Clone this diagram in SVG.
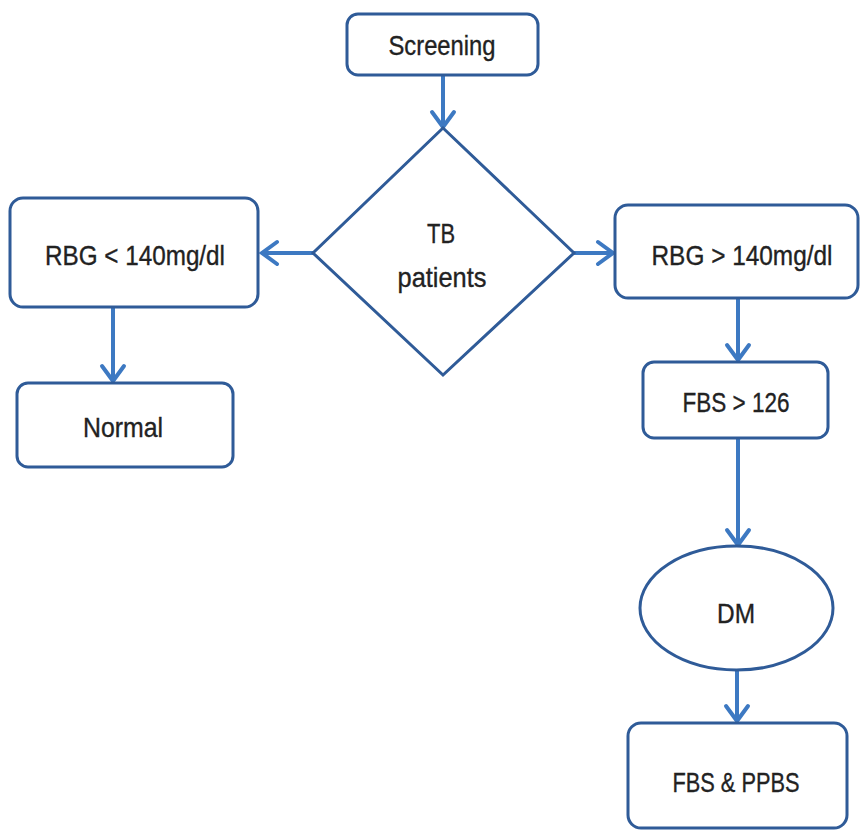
<svg xmlns="http://www.w3.org/2000/svg" width="861" height="831" viewBox="0 0 861 831">
  <defs>
    <marker id="chevron" markerUnits="userSpaceOnUse" markerWidth="40" markerHeight="40" viewBox="-20 -20 40 40" refX="0" refY="0" orient="auto">
      <path d="M-15,-11 L0,0 L-15,11" fill="none" stroke="#3d79c2" stroke-width="4" stroke-linejoin="miter" stroke-linecap="round"/>
    </marker>
    <style>
      .box { fill: #ffffff; stroke: #2f5b98; stroke-width: 3; }
      .label { font-family: "Liberation Sans", Arial, sans-serif; font-size: 28px; fill: #222222; stroke: #222222; stroke-width: 0.35; text-anchor: middle; }
      .link { fill: none; stroke: #3d79c2; stroke-width: 4; marker-end: url(#chevron); }
    </style>
  </defs>
  <rect width="861" height="831" fill="#ffffff"/>

  <g id="connectors">
    <line class="link" x1="443" y1="76" x2="443" y2="127"/>
    <line class="link" x1="313" y1="253" x2="262" y2="253"/>
    <line class="link" x1="574" y1="253" x2="613" y2="253"/>
    <line class="link" x1="113" y1="308" x2="113" y2="381"/>
    <line class="link" x1="738" y1="299" x2="738" y2="360"/>
    <line class="link" x1="738" y1="439" x2="738" y2="545"/>
    <line class="link" x1="737" y1="671" x2="737" y2="721"/>
  </g>

  <g id="screening">
    <rect class="box" x="347" y="14" width="191" height="61" rx="11"/>
    <text class="label" x="442" y="55" textLength="107" lengthAdjust="spacingAndGlyphs">Screening</text>
  </g>

  <g id="tb-patients">
    <polygon class="box" points="443,128 574,253 443,375 313,253"/>
    <text class="label" x="441" y="243" textLength="28" lengthAdjust="spacingAndGlyphs">TB</text>
    <text class="label" x="442" y="287" textLength="89" lengthAdjust="spacingAndGlyphs">patients</text>
  </g>

  <g id="rbg-low">
    <rect class="box" x="10" y="198" width="248" height="109" rx="13"/>
    <text class="label" x="135" y="265" textLength="180" lengthAdjust="spacingAndGlyphs">RBG &lt; 140mg/dl</text>
  </g>

  <g id="normal">
    <rect class="box" x="17" y="383" width="216" height="84" rx="11"/>
    <text class="label" x="123" y="437" textLength="80" lengthAdjust="spacingAndGlyphs">Normal</text>
  </g>

  <g id="rbg-high">
    <rect class="box" x="615" y="205" width="243" height="93" rx="13"/>
    <text class="label" x="742" y="265" textLength="181" lengthAdjust="spacingAndGlyphs">RBG &gt; 140mg/dl</text>
  </g>

  <g id="fbs">
    <rect class="box" x="643" y="362" width="185" height="76" rx="11"/>
    <text class="label" x="736" y="412" textLength="107" lengthAdjust="spacingAndGlyphs">FBS &gt; 126</text>
  </g>

  <g id="dm">
    <ellipse class="box" cx="736.5" cy="608" rx="96.5" ry="62"/>
    <text class="label" x="736" y="623" textLength="38" lengthAdjust="spacingAndGlyphs">DM</text>
  </g>

  <g id="fbs-ppbs">
    <rect class="box" x="628" y="723" width="219" height="105" rx="13"/>
    <text class="label" x="736" y="792" textLength="127" lengthAdjust="spacingAndGlyphs">FBS &amp; PPBS</text>
  </g>
</svg>
